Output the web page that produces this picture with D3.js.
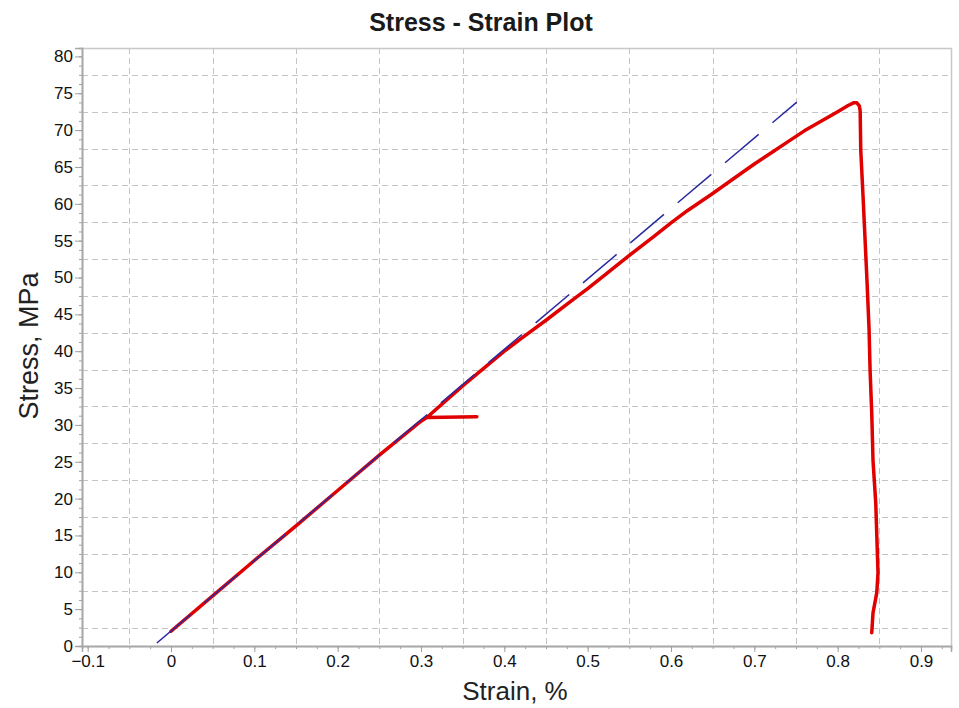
<!DOCTYPE html>
<html><head><meta charset="utf-8">
<script src="https://cdn.jsdelivr.net/npm/d3@7"></script>
<style>html,body{margin:0;padding:0;background:#fff;}svg{display:block;}</style>
</head><body>
<svg id="chart" width="959" height="708"></svg>
<script>
// ---- data ----
const xTicks = [-0.1, 0, 0.1, 0.2, 0.3, 0.4, 0.5, 0.6, 0.7, 0.8, 0.9];
const xTickLabels = ["\u22120.1", "0", "0.1", "0.2", "0.3", "0.4", "0.5", "0.6", "0.7", "0.8", "0.9"];
const yTicks = [0, 5, 10, 15, 20, 25, 30, 35, 40, 45, 50, 55, 60, 65, 70, 75, 80];
const xGrid = [-0.05, 0.05, 0.15, 0.25, 0.35, 0.45, 0.55, 0.65, 0.75, 0.85];
const yGrid = [2.5, 7.5, 12.5, 17.5, 22.5, 27.5, 32.5, 37.5, 42.5, 47.5, 52.5, 57.5, 62.5, 67.5, 72.5, 77.5];
const redStrain = [0, 0.05, 0.1, 0.15, 0.2, 0.25, 0.3, 0.307, 0.367, 0.307, 0.35, 0.4, 0.42, 0.45, 0.48, 0.5, 0.52, 0.55, 0.58, 0.6, 0.62, 0.65, 0.68, 0.7, 0.72, 0.74, 0.76, 0.78, 0.8, 0.812, 0.819, 0.823, 0.826, 0.827, 0.8277, 0.8305, 0.8329, 0.8353, 0.8377, 0.8389, 0.8409, 0.8424, 0.8457, 0.8484, 0.8469, 0.8424, 0.8409];
const redStress = [2.0, 6.8, 11.6, 16.3, 21.1, 25.9, 30.5, 31.0, 31.1, 31.0, 35.3, 40.0, 41.7, 44.2, 46.8, 48.5, 50.3, 53.0, 55.6, 57.4, 59.1, 61.4, 63.8, 65.4, 66.9, 68.4, 69.9, 71.2, 72.5, 73.3, 73.7, 73.7, 73.3, 72.6, 67.3, 60.9, 55.1, 49.3, 42.9, 37.4, 31.6, 25.2, 19.4, 9.9, 7.2, 4.5, 1.8];
const fitStrain = [-0.017, 0.751];
const fitStress = [0.4, 73.8];

// ---- layout ----
const svg = d3.select("#chart");
const L = 82, T = 48, R = 951, B = 646;
const x = d3.scaleLinear().domain([-0.1068, 0.936]).range([L, R]);
const y = d3.scaleLinear().domain([0, 81.14]).range([B, T]);
const font = "'Liberation Sans', Arial, sans-serif";

// grid
const g = svg.append("g");
g.selectAll(".vg").data(xGrid).join("line")
  .attr("x1", d => Math.round(x(d)) + 0.5).attr("x2", d => Math.round(x(d)) + 0.5)
  .attr("y1", T).attr("y2", B)
  .attr("stroke", "#c4c4c4").attr("stroke-width", 1).attr("stroke-dasharray", "6,4");
g.selectAll(".hg").data(yGrid).join("line")
  .attr("y1", d => Math.round(y(d)) + 0.5).attr("y2", d => Math.round(y(d)) + 0.5)
  .attr("x1", L).attr("x2", R)
  .attr("stroke", "#c4c4c4").attr("stroke-width", 1).attr("stroke-dasharray", "6,4");

// frame
svg.append("rect").attr("x", L + 0.5).attr("y", T + 0.5).attr("width", R - L).attr("height", B - T)
  .attr("fill", "none").attr("stroke", "#c8c8c8").attr("stroke-width", 1.5);

// axes
const xMinor = d3.range(-0.1, 0.9251, 0.025);
const xAxisMinor = d3.axisBottom(x).tickValues(xMinor).tickSize(3).tickFormat("");
const xAxis = d3.axisBottom(x).tickValues(xTicks).tickSize(6).tickPadding(3)
  .tickFormat((d, i) => xTickLabels[i]);
const yMinor = d3.range(0, 81, 1.25);
const yAxisMinor = d3.axisLeft(y).tickValues(yMinor).tickSize(3).tickFormat("");
const yAxis = d3.axisLeft(y).tickValues(yTicks).tickSize(7).tickPadding(2).tickFormat(d3.format("d"));

function styleAxis(sel) {
  sel.select(".domain").attr("stroke", "#a8a8a8").attr("stroke-width", 1.5);
  sel.selectAll(".tick line").attr("stroke", "#a0a0a0");
  sel.selectAll(".tick text").attr("fill", "#111").style("font-family", font).style("font-size", "17px");
}
svg.append("g").attr("transform", `translate(0,${B})`).call(xAxisMinor).call(styleAxis);
svg.append("g").attr("transform", `translate(0,${B})`).call(xAxis).call(styleAxis);
svg.append("g").attr("transform", `translate(${L},0)`).call(yAxisMinor).call(styleAxis);
svg.append("g").attr("transform", `translate(${L},0)`).call(yAxis).call(styleAxis);

// curves
svg.append("clipPath").attr("id", "clip").append("rect")
  .attr("x", L).attr("y", T).attr("width", R - L).attr("height", B - T);
const line = d3.line().x(d => x(d[0])).y(d => y(d[1]));
const redData = redStrain.map((s, i) => [s, redStress[i]]);
const fitData = fitStrain.map((s, i) => [s, fitStress[i]]);
svg.append("path").datum(redData).attr("d", line).attr("clip-path", "url(#clip)")
  .attr("fill", "none").attr("stroke", "#e00000").attr("stroke-width", 3.5)
  .attr("stroke-linejoin", "round").attr("stroke-linecap", "round");
svg.append("path").datum(fitData).attr("d", line).attr("clip-path", "url(#clip)")
  .attr("fill", "none").attr("stroke", "#2a2aa0").attr("stroke-width", 1.5)
  .attr("stroke-dasharray", "44,18");

// titles
svg.append("text").attr("x", 481).attr("y", 31).attr("text-anchor", "middle")
  .style("font-family", font).style("font-size", "25px").style("font-weight", "bold")
  .attr("fill", "#1a1a1a").text("Stress - Strain Plot");
svg.append("text").attr("x", 515).attr("y", 700).attr("text-anchor", "middle")
  .style("font-family", font).style("font-size", "26px").attr("fill", "#222").text("Strain, %");
svg.append("text").attr("transform", "translate(38,346) rotate(-90)").attr("text-anchor", "middle")
  .style("font-family", font).style("font-size", "27px").attr("fill", "#222").text("Stress, MPa");
</script>
</body></html>
